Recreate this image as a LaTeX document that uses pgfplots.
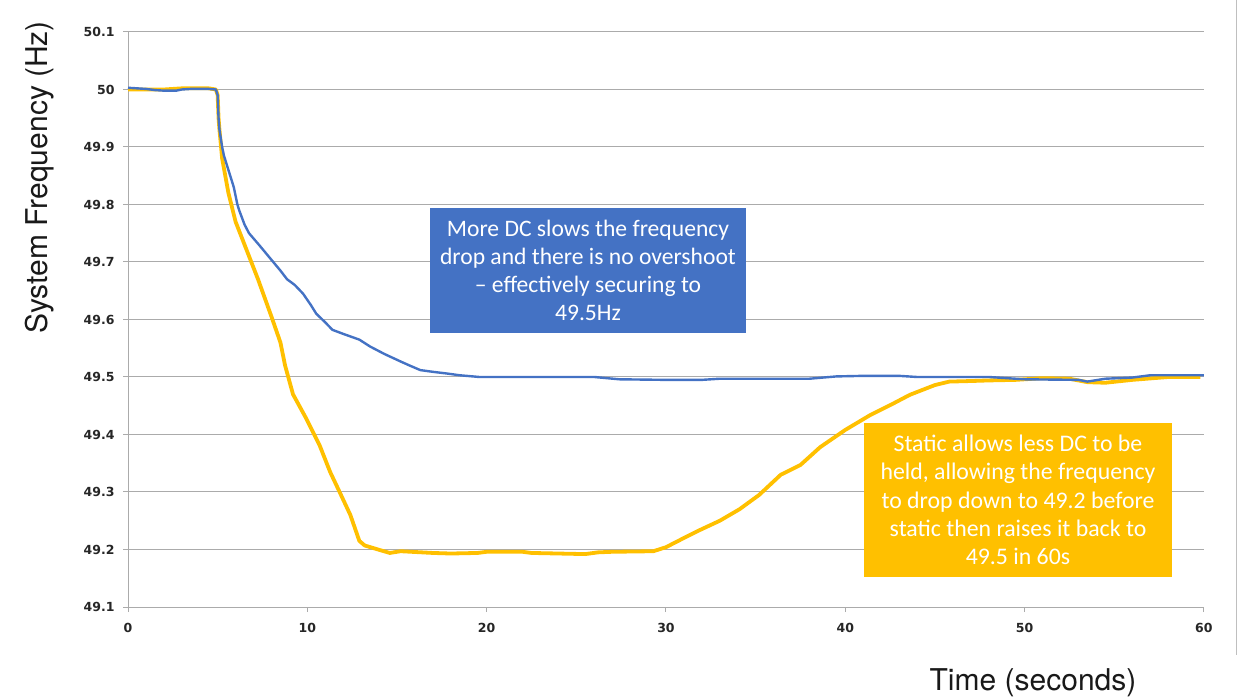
\documentclass[border=0pt]{standalone}
\usepackage{pgfplots}
\pgfplotsset{compat=1.18}
\usepackage{fontspec}
\setmainfont{Carlito}
\newfontfamily\tickfont{DejaVu Sans}
\newfontfamily\labelfont{TeX Gyre Heros}
\newcommand\tl{\fontsize{12.5}{14}\tickfont\bfseries}
\definecolor{cblue}{HTML}{4472C4}
\definecolor{cyell}{HTML}{FFC000}
\definecolor{cgrid}{HTML}{ABABAB}
\begin{document}
\begin{tikzpicture}
\useasboundingbox (0,0) rectangle (1241pt,699pt);
\begin{axis}[
  at={(128pt,92pt)}, anchor=south west,
  scale only axis, width=1076pt, height=575pt,
  xmin=0, xmax=60, ymin=49.1, ymax=50.1,
  axis x line*=bottom, axis y line*=left,
  axis line style={draw=cgrid, line width=1pt},
  xtick={0,10,20,30,40,50,60},
  xticklabels={0,10,20,30,40,50,60},
  ytick={49.1,49.2,49.3,49.4,49.5,49.6,49.7,49.8,49.9,50,50.1},
  yticklabels={49.1,49.2,49.3,49.4,49.5,49.6,49.7,49.8,49.9,50,50.1},
  ymajorgrids,
  major grid style={draw=cgrid, line width=1pt},
  tick align=outside, major tick length=5pt,
  tick style={draw=cgrid, line width=1pt},
  xticklabel style={font=\tl, text=black!85, yshift=-8pt},
  yticklabel style={font=\tl, text=black!85, xshift=-5pt},
  clip=false,
]
\addplot[color=cyell, line width=3.8pt, line join=round] coordinates {
(0,50.0) (2,50.0) (3,50.002) (4.5,50.002) (4.9,50.0) (5.0,49.99) (5.05,49.95) (5.1,49.93)
(5.25,49.88) (5.6,49.82) (6,49.77) (6.5,49.73) (7.25,49.67) (8.0,49.605) (8.5,49.56)
(8.76,49.52) (9.2,49.47) (9.9,49.43) (10.7,49.38) (11.27,49.335) (11.8,49.30) (12.4,49.26)
(12.9,49.215) (13.2,49.207) (14.05,49.199) (14.6,49.194) (15.2,49.197) (17,49.194)
(18,49.193) (19.5,49.194) (20,49.196) (22,49.196) (22.5,49.194) (24,49.193) (25.5,49.192)
(26.2,49.195) (27,49.196) (29.3,49.197) (30,49.204) (31,49.22) (31.9,49.234) (33,49.25)
(34.1,49.27) (35.2,49.295) (36.4,49.33) (37.5,49.347) (38.6,49.378) (40,49.408)
(41.4,49.434) (42.5,49.451) (43.6,49.469) (45,49.486) (45.8,49.492) (47,49.493)
(48,49.494) (49.5,49.495) (51,49.498) (52.5,49.497) (53.5,49.491) (54.5,49.49)
(56,49.495) (58,49.5) (59.8,49.5)
};
\addplot[color=cblue, line width=2.4pt, line join=round] coordinates {
(0,50.003) (0.5,50.002) (1,50.001) (1.5,49.999) (2,49.998) (2.7,49.998) (3,50.0)
(3.5,50.001) (4.5,50.001) (4.9,50.0) (5.0,49.99) (5.05,49.95) (5.1,49.93) (5.25,49.9)
(5.35,49.885) (5.6,49.86) (5.9,49.83) (6.1,49.80) (6.2,49.79) (6.5,49.765) (6.75,49.75)
(7.3,49.73) (8.1,49.70) (8.5,49.685) (8.87,49.67) (9.3,49.66) (9.76,49.645) (10.2,49.625)
(10.5,49.61) (11,49.595) (11.4,49.582) (12,49.575) (12.9,49.565) (13.5,49.553)
(14.3,49.54) (15.2,49.527) (15.7,49.52) (16.3,49.512) (17,49.509) (17.8,49.506)
(18.5,49.503) (19.6,49.5) (22,49.5) (25,49.5) (26,49.5) (27.4,49.496) (30,49.495)
(32,49.495) (33,49.497) (38,49.497) (39.5,49.501) (41,49.502) (43,49.502) (44,49.5)
(48,49.5) (50,49.496) (53,49.495) (53.5,49.492) (54.5,49.497) (56,49.499) (57,49.503)
(60,49.503)
};
\end{axis}
\draw[black!25, line width=1pt] (1236pt,699pt) -- (1236pt,44pt);
\node[fill=cblue, text=white, align=center, minimum width=316pt, minimum height=125pt,
  inner sep=0pt, font=\fontsize{23.6}{28}\selectfont] at (588pt,428.5pt)
  {More DC slows the frequency\\drop and there is no overshoot\\– effectively securing to\\49.5Hz};
\node[fill=cyell, text=white, align=center, minimum width=308pt, minimum height=154pt,
  inner sep=0pt, font=\fontsize{23.8}{28.3}\selectfont] at (1018pt,199pt)
  {Static allows less DC to be\\held, allowing the frequency\\to drop down to 49.2 before\\static then raises it back to\\49.5 in 60s};
\node[rotate=90, font=\fontsize{30}{33}\labelfont, text=black!90] at (40pt,521.5pt) {System Frequency (Hz)};
\node[font=\fontsize{30}{33}\labelfont, text=black!90] at (1033pt,16pt) {Time (seconds)};
\end{tikzpicture}
\end{document}
